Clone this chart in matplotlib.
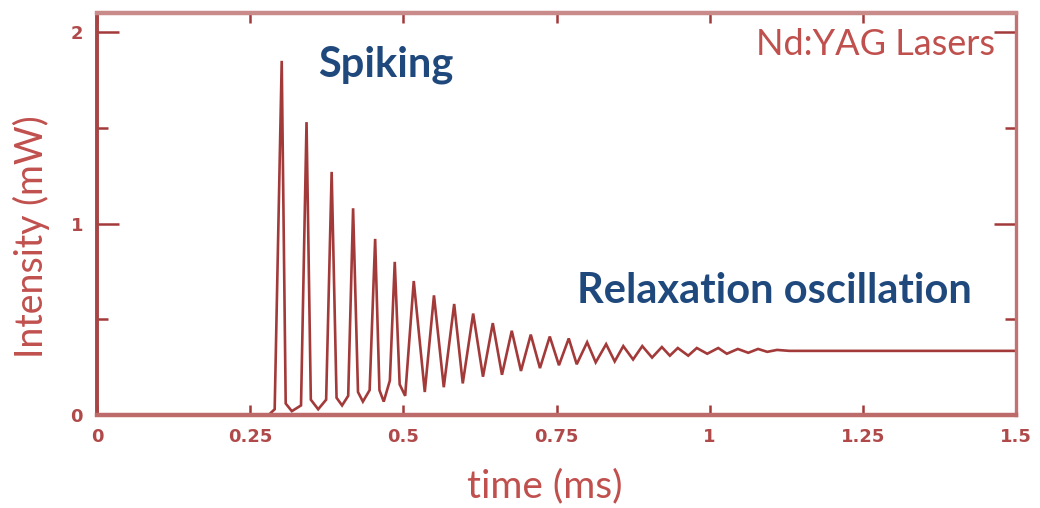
import matplotlib
matplotlib.use("Agg")
import matplotlib.pyplot as plt
from matplotlib.ticker import FixedLocator

# ---- data ----
time_ms = [0.000, 0.280, 0.290, 0.3015, 0.308, 0.318, 0.333, 0.342, 0.349, 0.361,
           0.374, 0.383, 0.391, 0.400, 0.410, 0.418, 0.426, 0.434, 0.445, 0.454,
           0.461, 0.468, 0.478, 0.486, 0.494, 0.503, 0.517, 0.535, 0.550, 0.566,
           0.583, 0.597, 0.614, 0.630, 0.646, 0.661, 0.677, 0.692, 0.708, 0.723,
           0.739, 0.754, 0.770, 0.783, 0.800, 0.814, 0.831, 0.845, 0.859, 0.875,
           0.890, 0.906, 0.922, 0.935, 0.948, 0.965, 0.979, 0.996, 1.014, 1.028,
           1.046, 1.063, 1.079, 1.094, 1.110, 1.130, 1.500]
intensity_mw = [0.000, 0.000, 0.030, 1.850, 0.060, 0.020, 0.050, 1.530, 0.080, 0.030,
                0.080, 1.270, 0.090, 0.050, 0.100, 1.080, 0.120, 0.070, 0.130, 0.920,
                0.130, 0.070, 0.180, 0.800, 0.160, 0.100, 0.700, 0.120, 0.625, 0.145,
                0.580, 0.165, 0.530, 0.200, 0.480, 0.210, 0.440, 0.230, 0.420, 0.245,
                0.410, 0.260, 0.400, 0.265, 0.380, 0.275, 0.370, 0.280, 0.360, 0.290,
                0.360, 0.300, 0.355, 0.310, 0.350, 0.310, 0.350, 0.320, 0.350, 0.320,
                0.345, 0.325, 0.345, 0.330, 0.340, 0.335, 0.335]

x_ticks = [0, 0.25, 0.5, 0.75, 1.0, 1.25, 1.5]
x_ticklabels = ["0", "0.25", "0.5", "0.75", "1", "1.25", "1.5"]
y_ticks = [0, 1, 2]
y_ticklabels = ["0", "1", "2"]
y_minor = [0.5, 1.5]

# ---- styling ----
LINE = "#a33a3a"
LABEL = "#C0504D"
BLUE = "#1F497D"
TICKLAB = "#b04a4a"

fig = plt.figure(figsize=(10.4, 5.08), dpi=100)
ax = fig.add_axes([97 / 1040, 1 - 415 / 508, (1016 - 97) / 1040, (415 - 13) / 508])

ax.plot(time_ms, intensity_mw, color=LINE, lw=1.9, solid_joinstyle="miter")
ax.set_xlim(0, 1.5)
ax.set_ylim(0, 2.1)

ax.xaxis.set_major_locator(FixedLocator(x_ticks))
ax.set_xticklabels(x_ticklabels)
ax.yaxis.set_major_locator(FixedLocator(y_ticks))
ax.set_yticklabels(y_ticklabels)
ax.yaxis.set_minor_locator(FixedLocator(y_minor))

ax.tick_params(axis="x", which="major", direction="in", length=7, width=1.8,
               color=LINE, top=True, bottom=True, labelsize=13, labelcolor=TICKLAB, pad=9)
ax.tick_params(axis="y", which="major", direction="in", length=16, width=1.8,
               color=LINE, left=True, right=True, labelsize=13, labelcolor=TICKLAB, pad=10)
ax.tick_params(axis="y", which="minor", direction="in", length=8, width=1.8,
               color=LINE, left=True, right=True)

spine_cols = {"left": "#a84444", "bottom": "#bd6a6a", "top": "#c98a8a", "right": "#c27272"}
spine_w = {"left": 2.8, "bottom": 3.2, "top": 3.2, "right": 2.4}
for k, s in ax.spines.items():
    s.set_color(spine_cols[k])
    s.set_linewidth(spine_w[k])

for lab in ax.get_xticklabels() + ax.get_yticklabels():
    lab.set_fontweight("bold")

FONT = ["Lato", "DejaVu Sans"]
fig.text(43 / 1040, (508 - 237) / 508, "Intensity (mW)", rotation=90, rotation_mode="anchor",
         ha="center", va="baseline", color=LABEL, fontsize=27, family=FONT)
fig.text(545 / 1040, (508 - 497) / 508, "time (ms)", ha="center", va="baseline",
         color=LABEL, fontsize=28, family=FONT)
fig.text(995 / 1040, (508 - 55) / 508, "Nd:YAG Lasers", ha="right", va="baseline",
         color=LABEL, fontsize=26, family=FONT)
fig.text(318 / 1040, (508 - 77) / 508, "Spiking", ha="left", va="baseline",
         color=BLUE, fontsize=30, fontweight="bold", family=FONT)
fig.text(577 / 1040, (508 - 303) / 508, "Relaxation oscillation", ha="left", va="baseline",
         color=BLUE, fontsize=30, fontweight="bold", family=FONT)

fig.savefig("out.png", dpi=100)
